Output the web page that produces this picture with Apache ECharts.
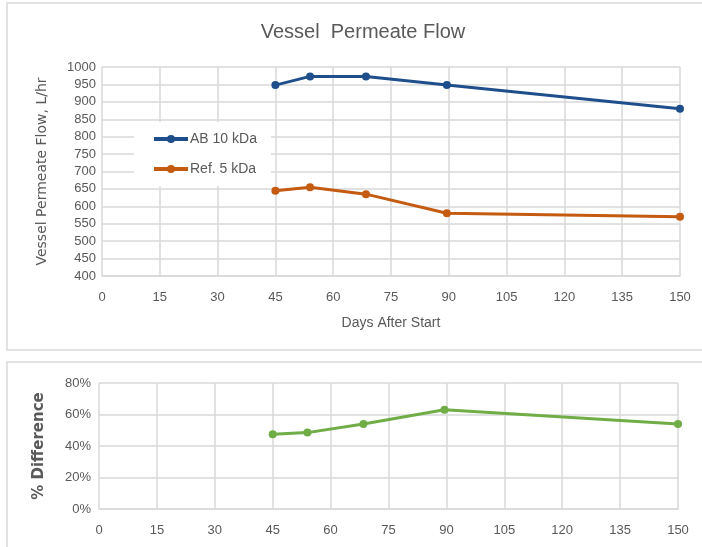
<!DOCTYPE html>
<html>
<head>
<meta charset="utf-8">
<script src="https://cdn.jsdelivr.net/npm/echarts@6/dist/echarts.min.js"></script>
<style>
  html, body { margin: 0; padding: 0; background: #fff; }
  #chart { width: 702px; height: 547px; }
</style>
</head>
<body>
<div id="chart"></div>
<script>
const days = [45, 54, 68.5, 89.5, 150];
const abFlow = [948, 973, 973, 948, 880];
const refFlow = [645, 655, 635, 580, 570];
const pctDiff = [47.5, 48.5, 54, 63, 54];

const chart = echarts.init(document.getElementById("chart"));
const txt = "#595959";
const gridCol = "#d9d9d9";
const font = "Liberation Sans Narrow, Liberation Sans, sans-serif";

const pairs = (xs, ys) => xs.map((x, i) => [x, ys[i]]);

const xAxisBase = {
  type: "value",
  min: 0,
  max: 150,
  interval: 15,
  axisLine: { show: true, lineStyle: { color: gridCol, width: 1.5 } },
  axisTick: { show: false },
  splitLine: { lineStyle: { color: gridCol, width: 1.5 } },
  axisLabel: { color: txt, fontSize: 13, fontFamily: font, margin: 15 },
};

let option = {
  animation: false,
  title: {
    text: "Vessel  Permeate Flow",
    left: 358,
    top: 17,
    textAlign: "center",
    textStyle: { color: txt, fontSize: 20, fontWeight: "normal", fontFamily: font },
  },
  graphic: [
    { type: "rect", shape: { x: 7, y: 3, width: 700, height: 347 }, style: { fill: "none", stroke: gridCol, lineWidth: 1.5 }, z: -1 },
    { type: "rect", shape: { x: 7, y: 362, width: 700, height: 190 }, style: { fill: "none", stroke: gridCol, lineWidth: 1.5 }, z: -1 },
  ],
  legend: {
    orient: "vertical",
    left: 134,
    top: 122,
    padding: [10, 14, 10, 18],
    itemGap: 16,
    itemWidth: 34,
    itemHeight: 10,
    backgroundColor: "#fff",
    lineStyle: { width: 4 },
    textStyle: { color: txt, fontSize: 14, fontFamily: font, padding: [0, 0, 0, -3] },
    data: ["AB 10 kDa", "Ref. 5 kDa"],
  },
  grid: [
    { left: 102, right: 22, top: 67, height: 209 },
    { left: 99, right: 24, top: 383, height: 126 },
  ],
  xAxis: [
    Object.assign({}, xAxisBase, {
      gridIndex: 0,
      name: "Days After Start",
      nameLocation: "middle",
      nameGap: 40,
      nameTextStyle: { color: txt, fontSize: 14, fontFamily: font },
    }),
    Object.assign({}, xAxisBase, { gridIndex: 1 }),
  ],
  yAxis: [
    {
      gridIndex: 0,
      type: "value",
      min: 400,
      max: 1000,
      interval: 50,
      name: "Vessel Permeate Flow, L/hr",
      nameLocation: "middle",
      nameGap: 53,
      nameTextStyle: { color: txt, fontSize: 14, fontFamily: "DejaVu Sans, sans-serif" },
      axisLine: { show: false },
      axisTick: { show: false },
      splitLine: { lineStyle: { color: gridCol, width: 1.5 } },
      axisLabel: { color: txt, fontSize: 13, fontFamily: font, margin: 6, formatter: (v) => String(v) },
    },
    {
      gridIndex: 1,
      type: "value",
      min: 0,
      max: 80,
      interval: 20,
      name: "% Difference",
      nameLocation: "middle",
      nameGap: 52,
      nameTextStyle: { color: txt, fontSize: 15, fontWeight: "bold", fontFamily: "DejaVu Sans, sans-serif" },
      axisLine: { show: false },
      axisTick: { show: false },
      splitLine: { lineStyle: { color: gridCol, width: 1.5 } },
      axisLabel: { color: txt, fontSize: 13, fontFamily: font, margin: 8, formatter: "{value}%" },
    },
  ],
  series: [
    {
      name: "AB 10 kDa",
      type: "line",
      xAxisIndex: 0,
      yAxisIndex: 0,
      data: pairs(days, abFlow),
      symbol: "circle",
      symbolSize: 8,
      lineStyle: { color: "#1f4e8c", width: 3 },
      itemStyle: { color: "#1f4e8c" },
    },
    {
      name: "Ref. 5 kDa",
      type: "line",
      xAxisIndex: 0,
      yAxisIndex: 0,
      data: pairs(days, refFlow),
      symbol: "circle",
      symbolSize: 8,
      lineStyle: { color: "#c55a11", width: 3 },
      itemStyle: { color: "#c55a11" },
    },
    {
      name: "% Difference",
      type: "line",
      xAxisIndex: 1,
      yAxisIndex: 1,
      data: pairs(days, pctDiff),
      symbol: "circle",
      symbolSize: 8,
      lineStyle: { color: "#70ad47", width: 3 },
      itemStyle: { color: "#70ad47" },
    },
  ],
};

chart.setOption(option);
</script>
</body>
</html>
